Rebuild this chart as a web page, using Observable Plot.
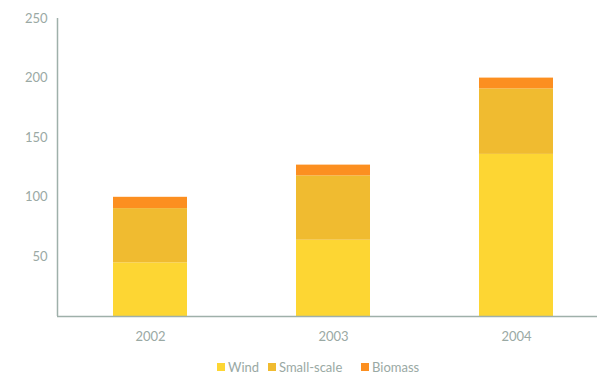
<!DOCTYPE html>
<html>
<head>
<meta charset="utf-8">
<script src="https://cdn.jsdelivr.net/npm/d3@7"></script>
<script src="https://cdn.jsdelivr.net/npm/@observablehq/plot@0.6"></script>
<style>
  body { margin: 0; background: #fff; font-family: Lato, "Open Sans", sans-serif; }
  #chart { position: relative; width: 597px; height: 374px; }
  .legend { position: relative; height: 22px; width: 597px; font-size: 13px; color: #9aa9a4; }
  .item { position: absolute; top: 7px; display: flex; align-items: center; white-space: nowrap; }
  .sw { width: 8px; height: 8px; margin-right: 3px; display: inline-block; }
</style>
</head>
<body>
<div id="chart"></div>
<script>
const years = ["2002", "2003", "2004"];
const series = ["Wind", "Small-scale", "Biomass"];
const colors = ["#fdd633", "#f0bb30", "#fc8f20"];
const wind = [45, 64, 136];
const smallScale = [45.5, 54, 55];
const biomass = [9.5, 9, 9];
const yTicks = [50, 100, 150, 200, 250];

const values = [wind, smallScale, biomass];
const data = [];
series.forEach((s, si) => years.forEach((y, yi) => data.push({year: y, source: s, value: values[si][yi]})));

const axisColor = "#9fb0aa";
const textColor = "#9aa9a4";

const plot = Plot.plot({
  width: 597,
  height: 352,
  marginTop: 18,
  marginBottom: 36,
  marginLeft: 57,
  marginRight: 0,
  style: {fontFamily: "Lato, 'Open Sans', sans-serif", fontSize: "13px", color: textColor, background: "#fff"},
  x: {domain: years, range: [57, 608], paddingInner: 0.597, paddingOuter: 0.3, label: null, tickSize: 0, tickPadding: 15},
  y: {domain: [0, 250], ticks: yTicks, label: null, tickSize: 0, tickPadding: 10},
  color: {domain: series, range: colors},
  marks: [
    Plot.barY(data, {x: "year", y: "value", fill: "source"}),
    Plot.ruleY([0], {stroke: axisColor, strokeWidth: 1.5})
  ]
});
document.getElementById("chart").appendChild(plot);

// left axis line
const svg = d3.select(plot);
svg.append("line")
  .attr("x1", 57.5).attr("x2", 57.5)
  .attr("y1", 18).attr("y2", 316)
  .attr("stroke", axisColor).attr("stroke-width", 1.5);

// legend
const legend = document.createElement("div");
legend.className = "legend";
const lefts = [217, 268, 361];
series.forEach((s, i) => {
  const it = document.createElement("div");
  it.className = "item";
  it.style.left = lefts[i] + "px";
  const sw = document.createElement("span");
  sw.className = "sw";
  sw.style.background = colors[i];
  it.appendChild(sw);
  it.appendChild(document.createTextNode(s));
  legend.appendChild(it);
});
document.getElementById("chart").appendChild(legend);
</script>
</body>
</html>
